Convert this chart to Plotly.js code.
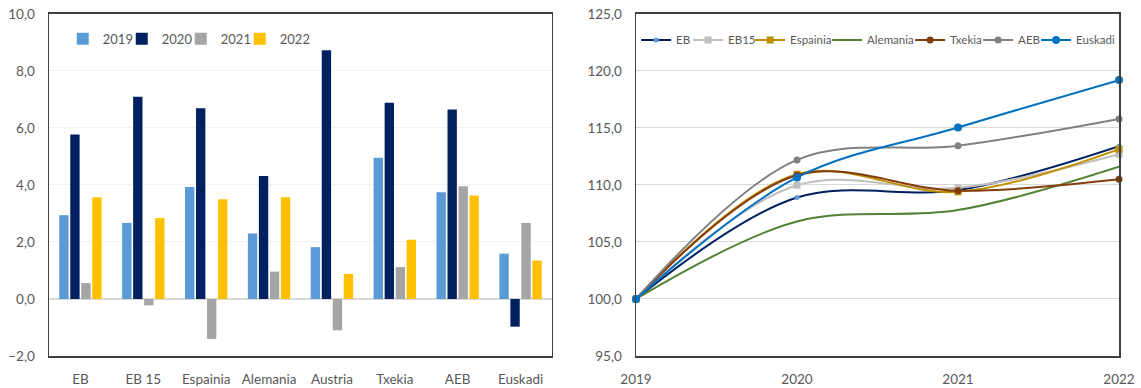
<!DOCTYPE html>
<html><head><meta charset="utf-8">
<script src="https://cdn.plot.ly/plotly-3.0.1.min.js"></script>
<style>html,body{margin:0;padding:0;background:#fff}#chart{width:1141px;height:388px}</style>
</head><body><div id="chart"></div>
<script>
// Left chart: growth rates by country and year
const countries = ['EB', 'EB 15', 'Espainia', 'Alemania', 'Austria', 'Txekia', 'AEB', 'Euskadi'];
const barYears = ['2019', '2020', '2021', '2022'];
const growth2019 = [2.94, 2.67, 3.93, 2.30, 1.82, 4.96, 3.75, 1.59];
const growth2020 = [5.77, 7.10, 6.69, 4.32, 8.73, 6.89, 6.65, -0.97];
const growth2021 = [0.56, -0.22, -1.40, 0.96, -1.10, 1.12, 3.96, 2.67];
const growth2022 = [3.57, 2.84, 3.50, 3.57, 0.88, 2.08, 3.63, 1.35];

// Right chart: index 2019 = 100
const years = [2019, 2020, 2021, 2022];
const yearLabels = ['2019', '2020', '2021', '2022'];
const idxEB = [100, 108.9, 109.55, 113.4];
const idxEB15 = [100, 109.98, 109.75, 112.7];
const idxEspainia = [100, 110.95, 109.4, 113.15];
const idxAlemania = [100, 106.8, 107.8, 111.6];
const idxTxekia = [100, 110.85, 109.5, 110.5];
const idxAEB = [100, 112.2, 113.45, 115.8];
const idxEuskadi = [100, 110.66, 115.04, 119.2];
const lineNames = ['EB', 'EB15', 'Espainia', 'Alemania', 'Txekia', 'AEB', 'Euskadi'];

const barColors = ['#5B9BD5', '#002060', '#A5A5A5', '#FFC000'];
const barSeries = [growth2019, growth2020, growth2021, growth2022];
const barLegendWidths = [14, 14, 14, 32];

const traces = [];
barSeries.forEach((vals, i) => {
  traces.push({
    type: 'bar', x: countries, y: vals, name: barYears[i],
    marker: {color: barColors[i]}, xaxis: 'x', yaxis: 'y',
    legend: 'legend', legendwidth: barLegendWidths[i], hoverinfo: 'y'
  });
});

const lineSeries = [idxEB, idxEB15, idxEspainia, idxAlemania, idxTxekia, idxAEB, idxEuskadi];
const lineStyles = [
  {line: '#002060', marker: {color: '#5B9BD5', size: 5, symbol: 'circle'}},
  {line: '#BFBFBF', marker: {color: '#BFBFBF', size: 7, symbol: 'square'}},
  {line: '#BF9000', marker: {color: '#BF9000', size: 7, symbol: 'square'}},
  {line: '#548235', marker: null},
  {line: '#843C0C', marker: {color: '#843C0C', size: 7, symbol: 'circle'}},
  {line: '#808080', marker: {color: '#808080', size: 7, symbol: 'circle'}},
  {line: '#0070C0', marker: {color: '#0070C0', size: 8, symbol: 'circle'}}
];
const legendWidths = [7, 17, 32, 38, 23, 13, 42];
lineSeries.forEach((vals, i) => {
  const st = lineStyles[i];
  const t = {
    type: 'scatter', x: years, y: vals, name: lineNames[i],
    mode: st.marker ? 'lines+markers' : 'lines',
    line: {color: st.line, width: 2, shape: 'spline', smoothing: 1},
    xaxis: 'x2', yaxis: 'y2', legend: 'legend2', legendwidth: legendWidths[i],
    cliponaxis: false
  };
  if (st.marker) t.marker = st.marker;
  traces.push(t);
});

const tickFont = {family: 'Lato, "Liberation Sans", sans-serif', size: 13.5, color: '#595959'};
const frame = {showline: true, mirror: true, linecolor: '#404040', linewidth: 1.5};

const layout = {
  width: 1141, height: 388,
  margin: {l: 0, r: 0, t: 0, b: 0},
  paper_bgcolor: '#ffffff', plot_bgcolor: '#ffffff',
  separators: ',.',
  font: tickFont,
  barmode: 'group', bargap: 0.3, bargroupgap: 0.15,
  xaxis: Object.assign({
    domain: [0.04295, 0.48378], anchor: 'y', type: 'category',
    showgrid: false, ticks: '', tickfont: tickFont, ticklabelstandoff: 10
  }, frame),
  yaxis: Object.assign({
    domain: [0.08247, 0.96392], anchor: 'x', range: [-2, 10], dtick: 2,
    tickformat: '.1f', gridcolor: '#F2F2F2', gridwidth: 1,
    zeroline: true, zerolinecolor: '#D9D9D9', zerolinewidth: 2,
    ticks: '', tickfont: tickFont, ticklabelstandoff: 10
  }, frame),
  xaxis2: Object.assign({
    domain: [0.55741, 0.98072], anchor: 'y2', range: [2019, 2022],
    tickvals: years, ticktext: yearLabels, showgrid: false, zeroline: false,
    ticks: '', tickfont: tickFont, ticklabelstandoff: 10
  }, frame),
  yaxis2: Object.assign({
    domain: [0.08247, 0.96392], anchor: 'x2', range: [95, 125], dtick: 5,
    tickformat: '.1f', gridcolor: '#D9D9D9', gridwidth: 1, zeroline: false,
    ticks: '', tickfont: tickFont, ticklabelstandoff: 10
  }, frame),
  legend: {
    orientation: 'h', x: 0.055, xanchor: 'left', y: 0.9, yanchor: 'middle',
    bgcolor: 'rgba(0,0,0,0)', borderwidth: 0, itemwidth: 30,
    font: {family: tickFont.family, size: 13, color: '#595959'}
  },
  legend2: {
    orientation: 'h', x: 0.5575, xanchor: 'left', y: 0.897, yanchor: 'middle',
    bgcolor: 'rgba(0,0,0,0)', borderwidth: 0, itemwidth: 30,
    font: {family: tickFont.family, size: 11.5, color: '#595959'}
  },
  showlegend: true
};

Plotly.newPlot('chart', traces, layout, {displayModeBar: false, staticPlot: true});
</script>
</body></html>
